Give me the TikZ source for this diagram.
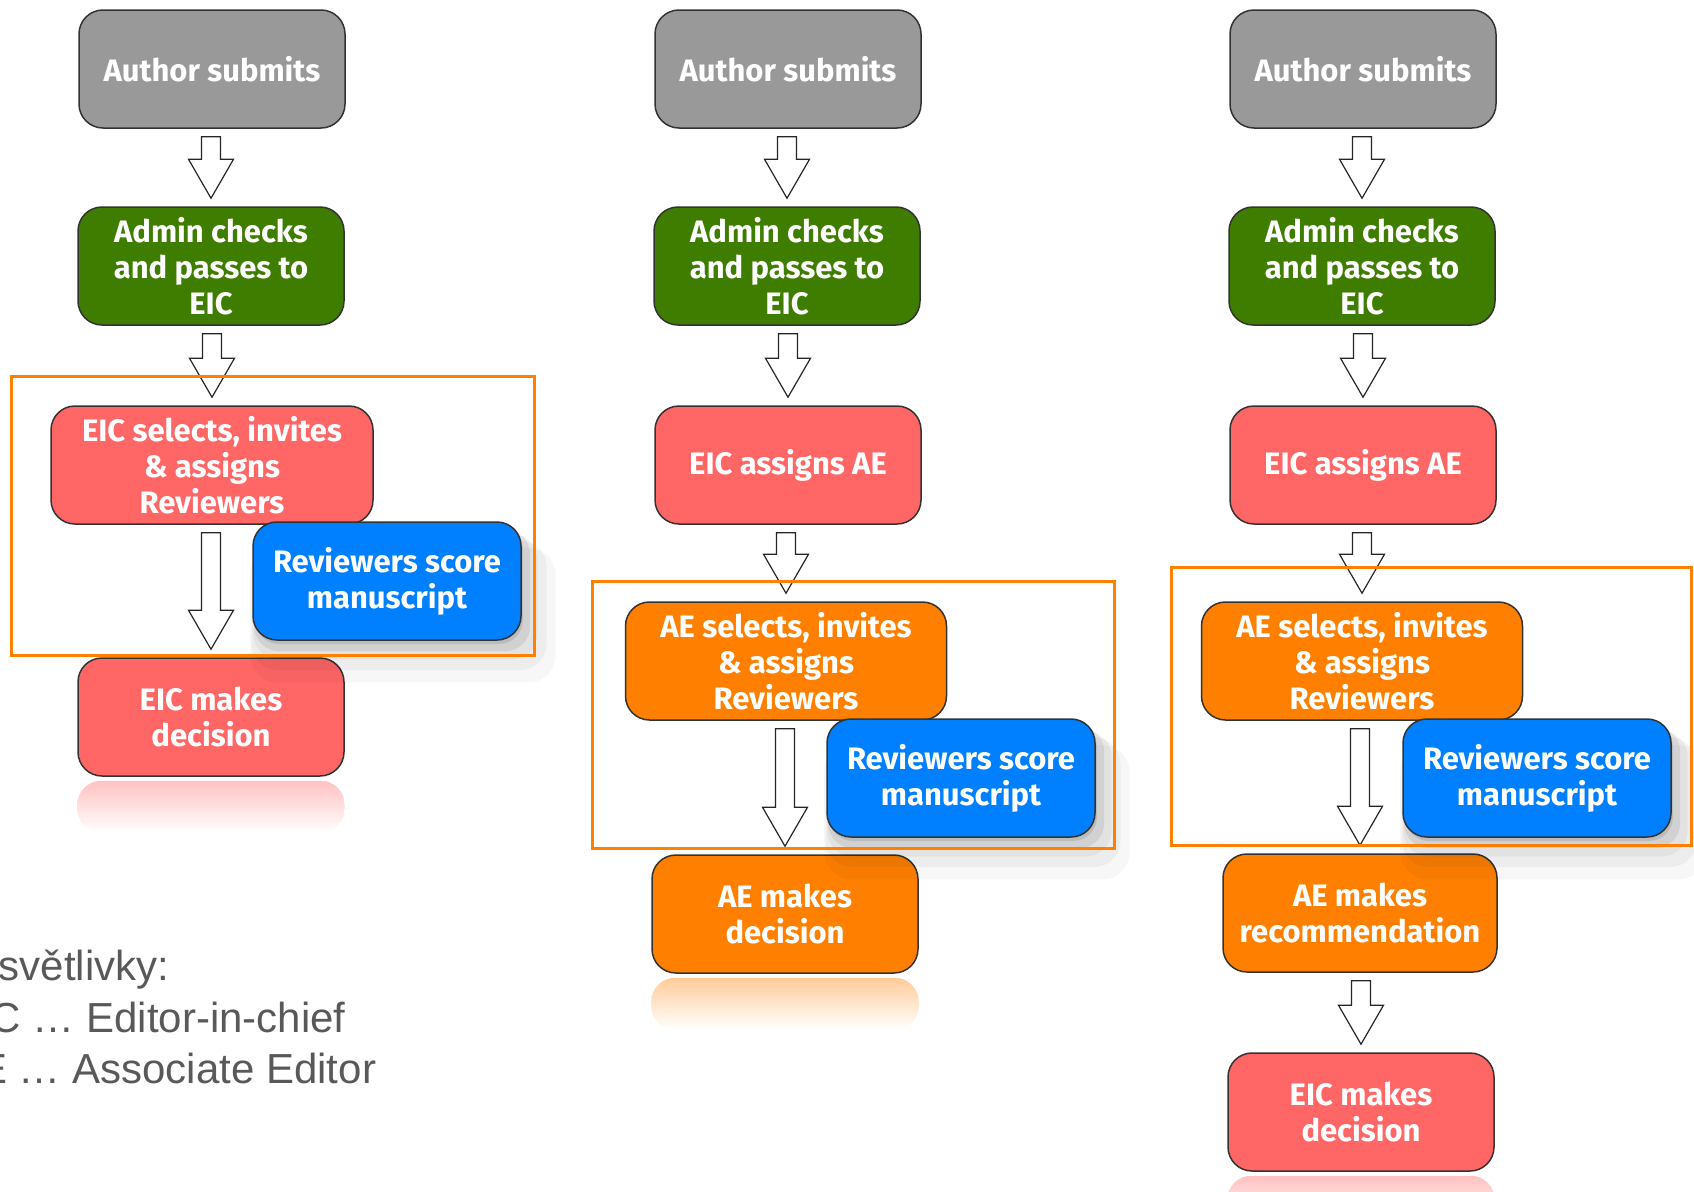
\documentclass[tikz,border=0pt]{standalone}
\usepackage{fontspec}
\setmainfont{Fira Sans}
\newfontfamily\legendfont{Liberation Sans}
\usetikzlibrary{calc,shadows}

\definecolor{boxgray}{RGB}{153,153,153}
\definecolor{boxgreen}{RGB}{63,125,0}
\definecolor{boxred}{RGB}{255,102,102}
\definecolor{boxorange}{RGB}{255,128,0}
\definecolor{boxblue}{RGB}{0,128,255}
\definecolor{legendgray}{RGB}{89,89,89}

% hollow block arrow from one box down to the next
\newcommand{\blockarr}[2]{%
  \draw[flowarrow] let \p1=($(#1.south)+(0,8)$), \p2=($(#2.north)+(0,-8)$) in
    (\x2-9.5pt,\y1) -- (\x2+9.5pt,\y1) -- (\x2+9.5pt,\y2+39pt) -- (\x2+22.5pt,\y2+39pt)
    -- (\x2,\y2) -- (\x2-22.5pt,\y2+39pt) -- (\x2-9.5pt,\y2+39pt) -- cycle;}

% faded mirror image under the last box
\newcommand{\mirror}[2]{%
  \shade[top color=#2!40, bottom color=white, rounded corners=24pt]
    ($(#1.south west)+(0,4)$) rectangle ($(#1.south east)+(0,56)$);}

\begin{document}
\begin{tikzpicture}[x=1pt,y=-1pt,
    box/.style={rectangle, rounded corners=24pt, draw=black!80, line width=1.5pt,
      text=white, font=\fontsize{31}{36}\selectfont\bfseries, align=center,
      minimum width=266pt, minimum height=118pt, inner sep=0pt},
    graybox/.style={box, fill=boxgray},
    greenbox/.style={box, fill=boxgreen},
    redbox/.style={box, fill=boxred},
    orangebox/.style={box, fill=boxorange},
    bluebox/.style={box, fill=boxblue, minimum width=268pt,
      drop shadow={shadow xshift=2pt, shadow yshift=-4pt, opacity=.10, fill=black},
      drop shadow={shadow xshift=5pt, shadow yshift=-9pt, opacity=.07, fill=black, shadow scale=1.03},
      drop shadow={shadow xshift=8pt, shadow yshift=-15pt, opacity=.05, fill=black, shadow scale=1.06},
      drop shadow={shadow xshift=11pt, shadow yshift=-22pt, opacity=.04, fill=black, shadow scale=1.10},
      drop shadow={shadow xshift=14pt, shadow yshift=-30pt, opacity=.03, fill=black, shadow scale=1.14}},
    flowarrow/.style={draw=black!85, fill=white, line width=1.2pt, line join=miter},
    frame/.style={draw=boxorange, line width=3pt},
    legend/.style={anchor=base west, inner sep=0pt, text=legendgray,
      font=\legendfont\fontsize{42}{51}\selectfont}]
  \useasboundingbox (0,0) rectangle (1694,1191);
  \clip (0,0) rectangle (1694,1191);

  % EIC alone
  \node[graybox]   (auth1)  at (212,69)  {Author submits};
  \node[greenbox]  (admin1) at (211,266) {Admin checks\\and passes to\\EIC};
  \node[redbox, minimum width=322pt] (sel1) at (212,465) {EIC selects, invites\\\& assigns\\Reviewers};
  \node[redbox]    (dec1)   at (211,717) {EIC makes\\decision};
  \node[bluebox]   (rev1)   at (387,581) {Reviewers score\\manuscript};
  \mirror{dec1}{boxred}
  \blockarr{auth1}{admin1}
  \blockarr{admin1}{sel1}
  \blockarr{sel1}{dec1}

  % AE decides
  \node[graybox]   (auth2)   at (788,69)  {Author submits};
  \node[greenbox]  (admin2)  at (787,266) {Admin checks\\and passes to\\EIC};
  \node[redbox]    (assign2) at (788,465) {EIC assigns AE};
  \node[orangebox, minimum width=321pt] (sel2) at (786,661) {AE selects, invites\\\& assigns\\Reviewers};
  \node[orangebox] (dec2)    at (785,914) {AE makes\\decision};
  \node[bluebox]   (rev2)    at (961,778) {Reviewers score\\manuscript};
  \mirror{dec2}{boxorange}
  \blockarr{auth2}{admin2}
  \blockarr{admin2}{assign2}
  \blockarr{assign2}{sel2}
  \blockarr{sel2}{dec2}

  % AE recommends, EIC decides
  \node[graybox]   (auth3)   at (1363,69)  {Author submits};
  \node[greenbox]  (admin3)  at (1362,266) {Admin checks\\and passes to\\EIC};
  \node[redbox]    (assign3) at (1363,465) {EIC assigns AE};
  \node[orangebox, minimum width=321pt] (sel3) at (1362,661) {AE selects, invites\\\& assigns\\Reviewers};
  \node[orangebox, minimum width=274pt] (rec3) at (1360,913) {AE makes\\recommendation};
  \node[bluebox]   (rev3)    at (1537,778) {Reviewers score\\manuscript};
  \node[redbox]    (dec3)    at (1361,1112) {EIC makes\\decision};
  \mirror{dec3}{boxred}
  \blockarr{auth3}{admin3}
  \blockarr{admin3}{assign3}
  \blockarr{assign3}{sel3}
  \blockarr{sel3}{rec3}
  \blockarr{rec3}{dec3}

  % reviewer rounds
  \draw[frame] (11,376) rectangle (534,655);
  \draw[frame] (592,581) rectangle (1114,848);
  \draw[frame] (1171,567) rectangle (1691,845);

  % legend
  \node[legend] (legtitle) at (-49,980)  {Vysvětlivky:};
  \node[legend] (legeic)   at (-49,1032) {EIC … Editor-in-chief};
  \node[legend] (legae)    at (-49,1083) {AE … Associate Editor};
\end{tikzpicture}
\end{document}
